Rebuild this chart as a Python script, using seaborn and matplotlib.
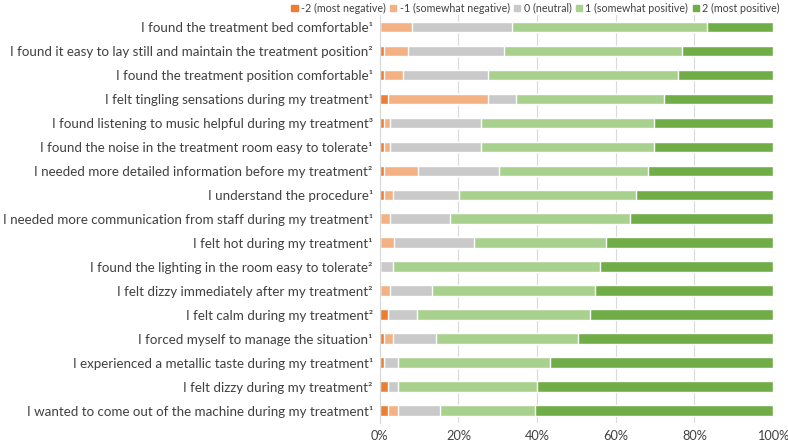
import numpy as np
import pandas as pd
import matplotlib
matplotlib.use("Agg")
import matplotlib.pyplot as plt
import seaborn as sns
from matplotlib.patches import Patch

questions = [
    "I found the treatment bed comfortable¹",
    "I found it easy to lay still and maintain the treatment position²",
    "I found the treatment position comfortable¹",
    "I felt tingling sensations during my treatment¹",
    "I found listening to music helpful during my treatment³",
    "I found the noise in the treatment room easy to tolerate¹",
    "I needed more detailed information before my treatment²",
    "I understand the procedure¹",
    "I needed more communication from staff during my treatment¹",
    "I felt hot during my treatment¹",
    "I found the lighting in the room easy to tolerate²",
    "I felt dizzy immediately after my treatment²",
    "I felt calm during my treatment²",
    "I forced myself to manage the situation¹",
    "I experienced a metallic taste during my treatment¹",
    "I felt dizzy during my treatment²",
    "I wanted to come out of the machine during my treatment¹",
]

# percent of respondents per answer
most_negative = [0, 1.0, 1.0, 2.2, 1.0, 1.0, 1.0, 1.0, 0, 0, 0, 0, 2.2, 1.0, 1.0, 2.2, 2.2]
somewhat_negative = [8.3, 6.1, 4.9, 25.3, 1.7, 1.7, 8.7, 2.4, 2.5, 3.6, 0, 2.5, 0, 2.4, 0, 0, 2.4]
neutral = [25.3, 24.4, 21.6, 7.2, 23.1, 23.1, 20.6, 16.8, 15.3, 20.3, 3.4, 10.7, 7.3, 10.8, 3.6, 2.4, 10.8]
somewhat_positive = [49.5, 45.3, 48.4, 37.5, 44.0, 44.0, 37.8, 44.9, 45.9, 33.7, 52.5, 41.5, 43.9, 36.3, 38.6, 35.4, 24.1]
most_positive = [16.9, 23.2, 24.1, 27.8, 30.2, 30.2, 31.9, 34.9, 36.3, 42.4, 44.1, 45.3, 46.6, 49.5, 56.8, 60.0, 60.5]

labels = ["-2 (most negative)", "-1 (somewhat negative)", "0 (neutral)",
          "1 (somewhat positive)", "2 (most positive)"]
colors = ["#ED7D31", "#F4B183", "#C9C9C9", "#A9D18E", "#70AD47"]

df = pd.DataFrame({
    "question": questions,
    labels[0]: most_negative,
    labels[1]: somewhat_negative,
    labels[2]: neutral,
    labels[3]: somewhat_positive,
    labels[4]: most_positive,
})

sns.set_style("white")
plt.rcParams["font.family"] = ["Lato", "DejaVu Sans"]

fig = plt.figure(figsize=(7.88, 4.44), dpi=100)
ax = fig.add_axes([0.482, 0.048, 0.499, 0.918])

# stacked bars: draw cumulative totals from the right-most segment back
cum = df[labels].cumsum(axis=1)
for lab, col in reversed(list(zip(labels, colors))):
    sns.barplot(x=cum[lab], y=df["question"], orient="h", color=col,
                width=0.45, saturation=1, ax=ax)

ax.set_xlim(0, 100)
ax.set_xticks(np.arange(0, 101, 20))
ax.set_xticklabels([f"{t}%" for t in range(0, 101, 20)])
ax.set_xlabel("")
ax.set_ylabel("")
ax.xaxis.grid(True, color="#D9D9D9", linewidth=0.8)
ax.set_axisbelow(True)
for s in ["top", "right", "bottom"]:
    ax.spines[s].set_visible(False)
ax.spines["left"].set_color("#D9D9D9")
ax.tick_params(axis="both", length=0, colors="#404040")
ax.tick_params(axis="y", pad=5, labelsize=9.6)
ax.tick_params(axis="x", pad=5, labelsize=9.2)

handles = [Patch(color=c, label=l) for l, c in zip(labels, colors)]
fig.legend(handles=handles, loc="upper right", bbox_to_anchor=(0.993, 1.0),
           borderaxespad=0.1, borderpad=0.15,
           ncol=5, frameon=False, fontsize=7.7, handlelength=0.6,
           handleheight=0.6, handletextpad=0.3, columnspacing=0.4,
           labelcolor="#404040")

fig.savefig("out.png", dpi=100)
